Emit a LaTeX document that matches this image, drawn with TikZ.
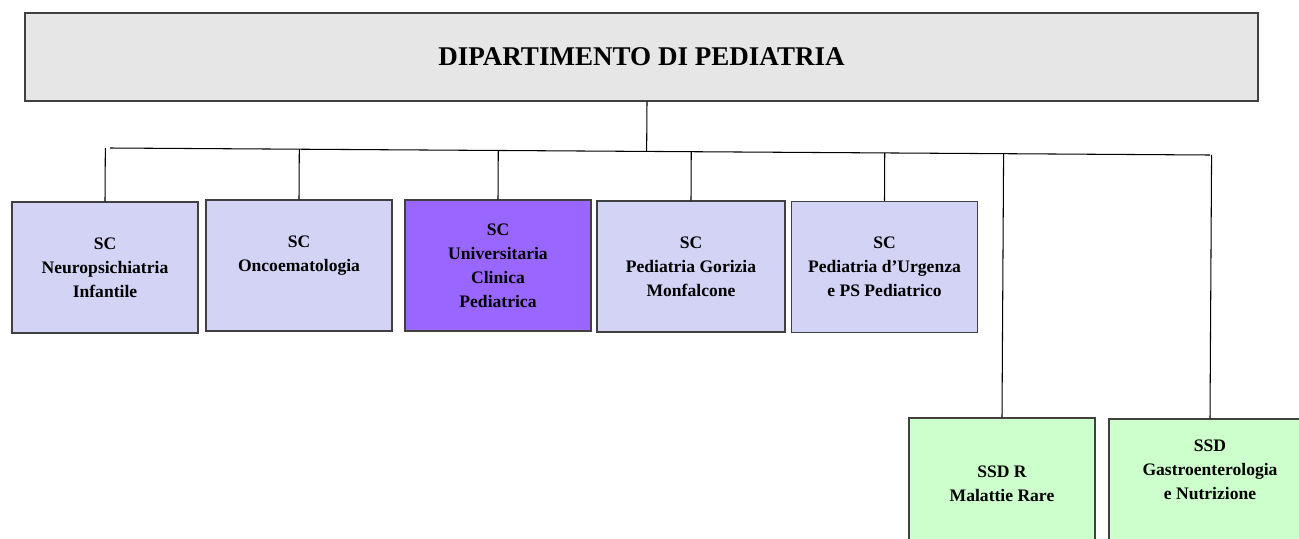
\documentclass[tikz,border=0pt]{standalone}
\usepackage{fontspec}
\setmainfont{Liberation Serif}
\usepackage{xcolor}
\usetikzlibrary{positioning,calc}

\definecolor{deptgray}{RGB}{230,230,230}
\definecolor{sclavender}{RGB}{211,211,245}
\definecolor{ucppurple}{RGB}{153,102,255}
\definecolor{ssdgreen}{RGB}{204,255,204}

\tikzset{
  unitbox/.style={draw=black!75, line width=0.8pt, rectangle, minimum width=3.72cm, minimum height=2.62cm, align=center, inner sep=1pt, font=\bfseries\fontsize{10}{13.6}\selectfont},
  scbox/.style={unitbox, fill=sclavender},
  ssdbox/.style={unitbox, fill=ssdgreen},
  link/.style={draw=black, line width=0.6pt}
}

\begin{document}
\begin{tikzpicture}[x=0.02cm, y=-0.02cm]
\useasboundingbox (0,0) rectangle (1299,538);

% department
\node[draw=black!75, line width=0.8pt, fill=deptgray, minimum width=24.66cm, minimum height=1.76cm, font=\bfseries\fontsize{15.4}{18}\selectfont] (dip) at (641.5,57) {DIPARTIMENTO DI PEDIATRIA};

% structures
\node[scbox] (npi) at (105,267.5) {SC\\Neuropsichiatria\\Infantile};
\node[scbox] (onco) at (299,265.5) {SC\\Oncoematologia\\\mbox{}};
\node[unitbox, fill=ucppurple] (ucp) at (498,265.5) {SC\\Universitaria\\Clinica\\Pediatrica};
\node[scbox, minimum width=3.76cm] (pgm) at (691,266.5) {SC\\Pediatria Gorizia\\Monfalcone};
\node[scbox] (urg) at (884.5,267) {SC\\Pediatria d'Urgenza\\e PS Pediatrico};
\node[ssdbox] (rare) at (1002,483.5) {SSD R\\Malattie Rare};
\node[ssdbox, minimum width=4.04cm] (gastro) at (1210,484.5) {SSD\\Gastroenterologia\\e Nutrizione\\[3pt]\mbox{}};

% connectors
\coordinate (busL) at (110,148);
\coordinate (busR) at (1210,155);
\coordinate (dipout) at ($(dip.south)+(5.5,0)$);
\draw[link] (busL) -- (busR);
\draw[link] (dipout) -- ($(busL)!(dipout)!(busR)$);
\foreach \u in {npi,onco,ucp,pgm,urg,rare,gastro}
  \draw[link] (\u.north) -- ($(busL)!(\u.north)!(busR)$);
\end{tikzpicture}
\end{document}
